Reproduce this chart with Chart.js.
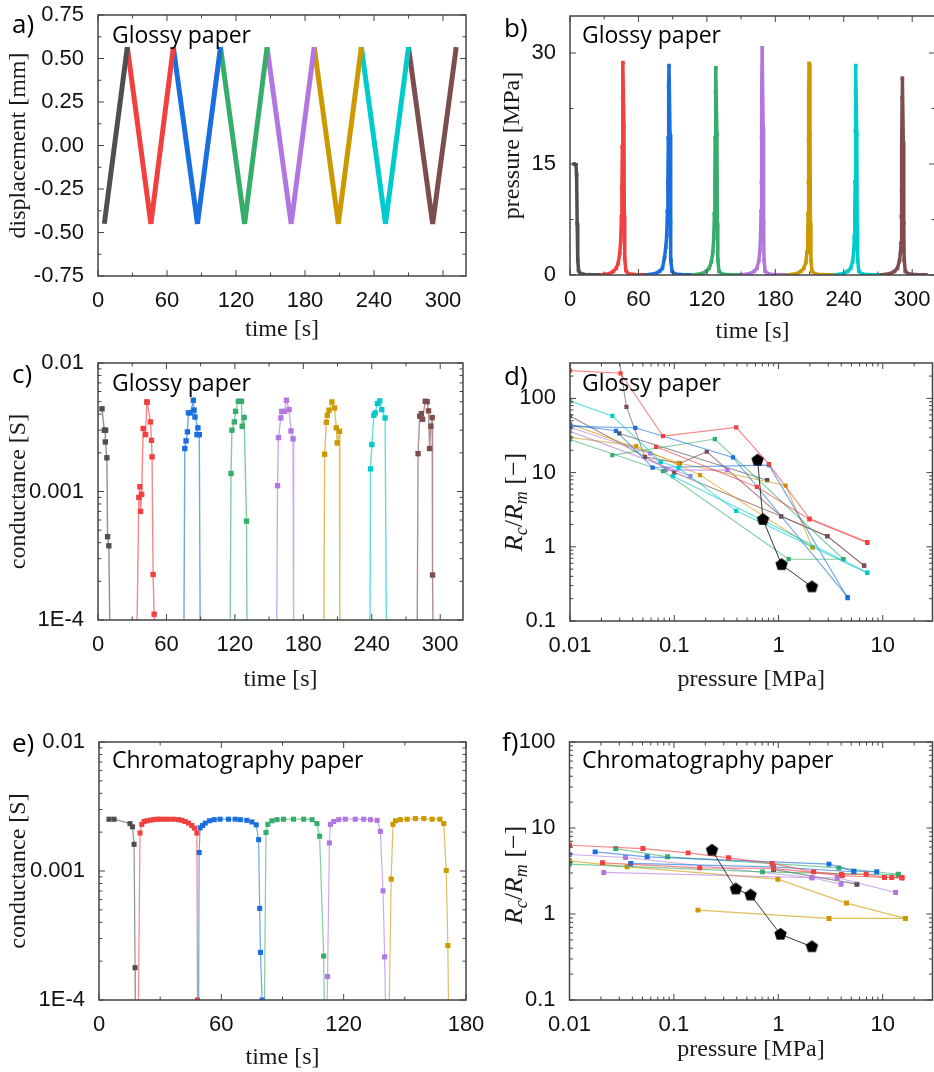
<!DOCTYPE html>
<html>
<head>
<meta charset="utf-8">
<script src="https://cdn.jsdelivr.net/npm/chart.js@4.4.0/dist/chart.umd.min.js"></script>
<style>
  html, body { margin: 0; padding: 0; background: #fff; }
  body { width: 934px; height: 1072px; overflow: hidden; position: relative; }
  canvas { position: absolute; }
</style>
</head>
<body>
<canvas id="pa"></canvas>
<canvas id="pb"></canvas>
<canvas id="pc"></canvas>
<canvas id="pd"></canvas>
<canvas id="pe"></canvas>
<canvas id="pf"></canvas>
<script>
// Origin-style palette
const BLACK = '#4f4f4f', RED = '#F14040', BLUE = '#1A6FDF', GREEN = '#37AD6B',
      PURPLE = '#B177DE', GOLD = '#CC9900', CYAN = '#00CBCC', BROWN = '#7D4E4E';

// ---------- a) displacement [mm] vs time [s]
const dispBlack  = [[5.5, -0.45], [25.5, 0.565]];
const dispRed    = [[25.5, 0.565], [46, -0.45], [65.5, 0.565]];
const dispBlue   = [[65.5, 0.565], [86.5, -0.45], [106.5, 0.565]];
const dispGreen  = [[106.5, 0.565], [127.5, -0.45], [147, 0.565]];
const dispPurple = [[147, 0.565], [168, -0.45], [188, 0.565]];
const dispGold   = [[188, 0.565], [209, -0.45], [229, 0.565]];
const dispCyan   = [[229, 0.565], [250, -0.45], [270, 0.565]];
const dispBrown  = [[270, 0.565], [291, -0.45], [311.5, 0.565]];

// ---------- b) pressure [MPa] vs time [s]
const presBlack  = [[3.6,15.0],[5.2,14.9],[5.8,13.5],[6.3,7],[6.8,2],[7.5,0.6],[9,0.2],[12,0.08],[17,0.04],[24,0.02]];
const presRed    = [[24,0.02],[30,0.06],[35,0.2],[38,0.5],[40.5,0.9],[42.3,1.6],[43.6,2.9],[44.5,4.7],[45.1,7.9],[45.5,11.7],[45.9,17.3],[46.2,24],[46.4,28.7],[47.3,20],[47.6,8],[48,2.2],[49,0.6],[51,0.18],[56,0.06],[64,0.02]];
const presBlue   = [[64,0.02],[70,0.06],[75,0.2],[78.5,0.5],[81,0.9],[82.8,2.3],[84,3.8],[84.8,5.4],[85.4,8.6],[85.8,12.4],[86.2,18.5],[86.5,25.6],[86.8,28.3],[87.7,19],[88.1,7],[88.5,2],[89.5,0.5],[92,0.15],[97,0.05],[105,0.02]];
const presGreen  = [[105,0.02],[111,0.06],[116,0.2],[119.5,0.5],[122,0.9],[124,1.8],[125.2,3.1],[126,5.0],[126.6,8.3],[127,12.8],[127.3,18.5],[127.6,24.8],[127.9,28.0],[128.8,19],[129.2,7],[129.6,2],[130.6,0.5],[133,0.15],[138,0.05],[147,0.02]];
const presPurple = [[147,0.02],[153,0.06],[158,0.2],[161.5,0.5],[163.8,0.9],[165.5,1.9],[166.5,3.3],[167.1,5.4],[167.5,8.6],[167.8,12.5],[168,18.5],[168.3,25],[168.5,30.7],[169.3,20],[169.7,7],[170.1,2],[171.1,0.5],[174,0.14],[180,0.05],[188,0.02]];
const presGold   = [[188,0.02],[194,0.06],[199,0.2],[202.5,0.5],[205,0.9],[206.8,1.7],[207.8,3.1],[208.4,5.2],[208.8,8.3],[209,12.5],[209.2,18.3],[209.4,24.5],[209.6,28.6],[210.4,19],[210.8,7],[211.2,2],[212.2,0.5],[215,0.14],[221,0.05],[229,0.02]];
const presCyan   = [[229,0.02],[235,0.06],[240,0.2],[243.5,0.5],[246,0.9],[247.8,1.8],[248.8,3.4],[249.3,5.2],[249.7,8.5],[250,12.6],[250.2,19.5],[250.4,24.8],[250.6,28.3],[251.4,19],[251.8,7],[252.2,2],[253.2,0.5],[256,0.15],[262,0.05],[270,0.02]];
const presBrown  = [[270,0.02],[276,0.06],[281,0.2],[284.5,0.5],[287,0.9],[288.8,1.9],[289.7,2.9],[290.2,4.3],[290.5,7.9],[290.8,11.4],[291,17.6],[291.2,24],[291.4,26.6],[292.2,18],[292.6,7],[293,2],[294,0.5],[297,0.14],[303,0.05],[312,0.02]];

// ---------- c) conductance [S] vs time [s], glossy paper
const condBlack  = [[3.5,4.4e-3],[5.5,3.0e-3],[6.7,3.0e-3],[6.4,2.43e-3],[7.8,1.83e-3],[8.4,4.45e-4],[9.5,3.78e-4],[10.7,5e-5]];
const condRed    = [[33.8,5e-5],[35.8,9.0e-4],[36.7,1.09e-3],[37.3,7.0e-4],[38.3,9.5e-4],[39.6,3.09e-3],[41.7,2.77e-3],[42.8,4.98e-3],[43.1,4.95e-3],[46,3.48e-3],[46.9,2.5e-3],[47.4,1.86e-3],[48.3,2.26e-4],[49.2,1.11e-4],[49.6,5e-5]];
const condBlue   = [[75.2,5e-5],[76.1,2.16e-3],[77.2,2.48e-3],[78.4,2.91e-3],[79.3,4.09e-3],[81.2,4.1e-3],[83.6,5.13e-3],[84.2,4.3e-3],[85,3.8e-3],[87.6,3.13e-3],[86.8,2.77e-3],[88.8,2.77e-3],[89.7,5e-5]];
const condGreen  = [[115.7,5e-5],[116.6,1.38e-3],[117.4,3.0e-3],[119.5,3.48e-3],[120.6,4.2e-3],[123,5.04e-3],[125.8,5.04e-3],[126.4,3.22e-3],[128.1,3.76e-3],[130.2,5.88e-4],[130.7,5e-5]];
const condPurple = [[156.5,5e-5],[157.4,1.11e-3],[158.2,2.63e-3],[160.3,3.74e-3],[161.1,4.2e-3],[163.5,4.2e-3],[165.2,5.13e-3],[167.5,4.34e-3],[169.2,2.96e-3],[171,2.57e-3],[171.5,5e-5]];
const condGold   = [[197.9,5e-5],[198.7,1.95e-3],[200.2,3.46e-3],[201,3.92e-3],[202.5,4.29e-3],[205.1,4.98e-3],[207.4,4.47e-3],[208.9,3.13e-3],[209.7,2.39e-3],[211.7,2.94e-3],[212,5e-5]];
const condCyan   = [[238.4,5e-5],[238.9,1.5e-3],[240.1,2.32e-3],[241.8,3.92e-3],[243,4.09e-3],[245,4.83e-3],[247,5.07e-3],[248.8,4.34e-3],[251.7,3.74e-3],[253,5e-5]];
const condBrown  = [[279.7,5e-5],[280.6,1.97e-3],[282,3.85e-3],[283.5,4.04e-3],[284.6,3.65e-3],[286.9,5.04e-3],[288.6,5.0e-3],[289.8,4.24e-3],[290.7,2.16e-3],[291.8,3.22e-3],[293,3.76e-3],[293.3,2.24e-4],[293.9,5e-5]];

// ---------- d) Rc/Rm vs pressure, glossy paper
const ratioModel = [[0.63,14.7],[0.71,2.33],[1.07,0.575],[2.09,0.288]];
const gRed1    = [[0.01,237],[0.0305,218],[0.078,31],[0.393,40.6],[0.81,13],[1.98,2.4],[7.1,1.16]];
const gRed2    = [[0.067,22.3],[0.62,6.4],[1.98,2.35],[7.1,1.13]];
const gCyan1   = [[0.01,92],[0.0255,58],[0.0743,14],[0.11,11.6],[0.393,3.05],[7.1,0.445]];
const gCyan2   = [[0.097,8.96],[0.7,2.3],[7.1,0.45]];
const gBlue1   = [[0.01,44],[0.0276,36.6],[0.062,11.7],[0.81,12.6],[4.6,0.204]];
const gBlue2   = [[0.01,42],[0.0423,40.2],[0.366,16],[4.6,0.21]];
const gGreen1  = [[0.0255,17.2],[0.245,28.3],[4.2,0.68]];
const gGreen2  = [[0.01,28],[0.078,10.5],[1.25,0.68],[4.2,0.68]];
const gPurple1 = [[0.01,40.6],[0.0588,18.1],[0.083,10.8],[0.323,10.8]];
const gPurple2 = [[0.01,36],[0.143,8.96]];
const gGold1   = [[0.01,29.8],[0.0432,22.8],[0.177,9.25],[2.12,0.98]];
const gGold2   = [[0.01,45],[0.11,13.5],[1.17,6.7],[2.12,0.98]];
const gBrown1  = [[0.029,400],[0.0348,77],[0.0524,16.3],[0.113,13.3],[0.205,19.1],[1.06,2.58],[2.94,1.39],[6.62,0.558]];
const gBrown2  = [[0.01,57.8],[0.1,10],[1.06,2.58],[2.94,1.39],[6.62,0.558]];
const gGrey    = [[0.0297,33.7],[0.78,7.9]];

// ---------- e) conductance [S] vs time [s], chromatography paper
const chBlack  = [[4.9,2.52e-3],[7.4,2.52e-3],[15.2,2.33e-3],[16.4,2.2e-3],[17.2,1.61e-3],[17.7,1.78e-4],[17.8,5e-5]];
const chRed    = [[19.2,5e-5],[20.1,1.97e-3],[21,2.3e-3],[22.1,2.42e-3],[23.5,2.45e-3],[25.2,2.48e-3],[26.8,2.5e-3],[28.5,2.52e-3],[30.1,2.52e-3],[31.8,2.52e-3],[34,2.52e-3],[36.5,2.52e-3],[39,2.5e-3],[40.6,2.47e-3],[42.2,2.42e-3],[43.9,2.35e-3],[45.5,2.25e-3],[46.8,2.15e-3],[48,1.97e-3],[48.3,1.0e-4],[48.5,5e-5]];
const chBlue   = [[48.8,5e-5],[49.1,1.39e-3],[49.6,2.16e-3],[50.8,2.25e-3],[52.1,2.35e-3],[54.2,2.45e-3],[56.5,2.5e-3],[59.4,2.52e-3],[63.5,2.52e-3],[66.8,2.52e-3],[69.3,2.5e-3],[72.5,2.47e-3],[75,2.4e-3],[77.1,2.28e-3],[78.3,1.75e-3],[78.8,5.13e-4],[79.2,2.34e-4],[80,1.0e-4],[80.1,5e-5]];
const chGreen  = [[81,5e-5],[81.9,1.99e-3],[82.8,2.3e-3],[84.8,2.45e-3],[87.3,2.5e-3],[90.5,2.52e-3],[95.4,2.52e-3],[100.4,2.52e-3],[104.5,2.5e-3],[106.9,2.33e-3],[108.2,1.86e-3],[110.2,2.19e-4],[110.7,5e-5]];
const chPurple = [[111.5,5e-5],[112.1,1.52e-4],[113,1.65e-3],[113.5,2.3e-3],[115.1,2.42e-3],[117.6,2.5e-3],[120.8,2.52e-3],[125.7,2.52e-3],[129.8,2.52e-3],[133.1,2.5e-3],[136.4,2.47e-3],[138,2.03e-3],[139.3,7.02e-4],[140.1,2.16e-4],[140.8,5e-5]];
const chGold   = [[142.1,5e-5],[143.3,8.65e-4],[144.2,2.3e-3],[145.4,2.45e-3],[147.8,2.5e-3],[151.1,2.52e-3],[155.2,2.55e-3],[159.3,2.55e-3],[163.4,2.52e-3],[167.2,2.52e-3],[169.1,2.33e-3],[170.3,1.01e-3],[171.1,2.64e-4],[171.6,5e-5]];

// ---------- f) Rc/Rm vs pressure, chromatography paper
const chModel  = [[0.232,5.52],[0.392,1.95],[0.543,1.66],[1.05,0.58],[2.1,0.416]];
const cRed1    = [[0.01,6.3],[0.0505,5.77],[0.137,5.14],[0.334,4.5],[0.871,3.87],[2.18,3.09],[4.03,2.9],[6.95,2.9],[10.4,2.66],[12.2,2.66],[15.3,2.66]];
const cRed2    = [[0.0207,3.94],[0.177,3.44],[0.9,3.4],[4.1,2.8],[15.3,2.62]];
const cBlue1   = [[0.0176,5.28],[0.0555,4.62],[3.06,3.8],[5.28,3.15],[8.77,3.1]];
const cBlue2   = [[0.0386,3.87],[0.898,3.54],[5.3,3.1]];
const cGreen1  = [[0.0277,5.77],[0.087,4.62],[3.8,3.44],[14.1,2.9]];
const cGreen2  = [[0.01,3.8],[0.706,3.09],[14.1,2.85]];
const cPurple1 = [[0.01,4.92],[0.0344,4.54],[2.1,2.64],[3.67,2.64],[13.3,1.78]];
const cPurple2 = [[0.0213,3.04],[2.1,2.64],[4.0,2.22]];
const cGold1   = [[0.01,4.15],[0.0356,3.54],[0.99,2.54],[4.5,1.34],[16.5,0.888]];
const cGold2   = [[0.17,1.11],[3.06,0.888],[16.5,0.888]];
const cGrey    = [[0.9,3.3],[5.67,2.22]];

// ---------- ticks and tick labels
const timeTicks  = [0, 30, 60, 90, 120, 150, 180, 210, 240, 270, 300];
const timeLabels = ['0', '', '60', '', '120', '', '180', '', '240', '', '300'];
const shortTimeTicks  = [0, 30, 60, 90, 120, 150, 180];
const shortTimeLabels = ['0', '', '60', '', '120', '', '180'];
const dispTicks  = [-0.75, -0.625, -0.5, -0.375, -0.25, -0.125, 0, 0.125, 0.25, 0.375, 0.5, 0.625, 0.75];
const dispLabels = ['-0.75', '', '-0.50', '', '-0.25', '', '0.00', '', '0.25', '', '0.50', '', '0.75'];
const presTicks  = [0, 7.5, 15, 22.5, 30];
const presLabels = ['0', '', '15', '', '30'];
const condTicks  = [1e-4, 2e-4, 3e-4, 4e-4, 5e-4, 6e-4, 7e-4, 8e-4, 9e-4,
                    1e-3, 2e-3, 3e-3, 4e-3, 5e-3, 6e-3, 7e-3, 8e-3, 9e-3, 1e-2];
const condLabels = ['1E-4', '', '', '', '', '', '', '', '',
                    '0.001', '', '', '', '', '', '', '', '', '0.01'];
const mpaTicks  = [0.01, 0.02, 0.03, 0.04, 0.05, 0.06, 0.07, 0.08, 0.09,
                   0.1, 0.2, 0.3, 0.4, 0.5, 0.6, 0.7, 0.8, 0.9,
                   1, 2, 3, 4, 5, 6, 7, 8, 9, 10, 20];
const mpaLabels = ['0.01', '', '', '', '', '', '', '', '',
                   '0.1', '', '', '', '', '', '', '', '',
                   '1', '', '', '', '', '', '', '', '', '10', ''];
const ratioTicks  = [0.1, 0.2, 0.3, 0.4, 0.5, 0.6, 0.7, 0.8, 0.9,
                     1, 2, 3, 4, 5, 6, 7, 8, 9,
                     10, 20, 30, 40, 50, 60, 70, 80, 90, 100, 200];
const ratioLabels = ['0.1', '', '', '', '', '', '', '', '',
                     '1', '', '', '', '', '', '', '', '',
                     '10', '', '', '', '', '', '', '', '', '100', ''];

// panel boxes (page px): canvas box + plot area + title centres
const BOX = {
  pa: {x: 0,   y: 0,   w: 467, h: 350, L: 98,    T: 15,  R: 466, B: 276,  xt: 330,  yt: 19},
  pb: {x: 467, y: 0,   w: 472, h: 350, L: 570,   T: 16,  R: 938, B: 275,  xt: 332,  yt: 513},
  pc: {x: 0,   y: 345, w: 467, h: 352, L: 98,    T: 363, R: 466, B: 620,  xt: 680,  yt: 18.5},
  pd: {x: 467, y: 345, w: 472, h: 352, L: 570,   T: 363, R: 938, B: 621,  xt: 680,  yt: 514},
  pe: {x: 0,   y: 725, w: 500, h: 347, L: 99,    T: 742, R: 466, B: 1000, xt: 1058, yt: 18.5},
  pf: {x: 467, y: 725, w: 472, h: 347, L: 569.5, T: 742, R: 938, B: 1000, xt: 1050, yt: 514}
};

// in-canvas texts: panel letter + sample annotation (page coordinates)
const TEXTS = {
  pa: [['a)', 12, 33, 26], ['Glossy paper', 112, 43, 23]],
  pb: [['b)', 504, 37, 26], ['Glossy paper', 582, 43, 23]],
  pc: [['c)', 12, 383, 26], ['Glossy paper', 112, 391, 23]],
  pd: [['d)', 504, 385, 26], ['Glossy paper', 582, 391, 23]],
  pe: [['e)', 12, 752, 26], ['Chromatography paper', 112, 768, 23]],
  pf: [['f)', 502, 751, 26], ['Chromatography paper', 582, 768, 23]]
};
const RC_TITLE = {pd: [514, 502], pf: [514, 875]};

const TICK_FONT = {family: 'Liberation Sans', size: 22};
const TITLE_FONT = {family: 'Liberation Serif', size: 24};

function drawRcRm(ctx, cx, cy) {
  const big = 'italic 26px "Liberation Serif"', sub = 'italic 18px "Liberation Serif"', up = '26px "Liberation Serif"';
  const parts = [['R', big, 0], ['c', sub, 5], ['/', up, 0], ['R', big, 0], ['m', sub, 5], [' [\u2212]', up, 0]];
  ctx.save();
  ctx.translate(cx, cy);
  ctx.rotate(-Math.PI / 2);
  let total = 0;
  parts.forEach(p => { ctx.font = p[1]; total += ctx.measureText(p[0]).width; });
  let x = -total / 2;
  ctx.fillStyle = '#1a1a1a';
  ctx.textBaseline = 'alphabetic';
  parts.forEach(p => {
    ctx.font = p[1];
    ctx.fillText(p[0], x, 8 + p[2]);
    x += ctx.measureText(p[0]).width;
  });
  ctx.restore();
}

// frame with inward ticks on all four sides, plus the panel texts
const framePlugin = {
  id: 'frame',
  afterDraw(chart) {
    const {ctx, chartArea: a} = chart;
    const xs = chart.scales.x, ys = chart.scales.y;
    const id = chart.canvas.id, box = BOX[id];
    ctx.save();
    ctx.strokeStyle = '#444';
    ctx.lineWidth = 1;
    ctx.beginPath();
    xs.ticks.forEach(t => {
      const px = xs.getPixelForValue(t.value);
      const len = t.major ? 6 : 3.5;
      ctx.moveTo(px, a.bottom); ctx.lineTo(px, a.bottom - len);
      ctx.moveTo(px, a.top); ctx.lineTo(px, a.top + len);
    });
    ys.ticks.forEach(t => {
      const py = ys.getPixelForValue(t.value);
      const len = t.major ? 6 : 3.5;
      ctx.moveTo(a.left, py); ctx.lineTo(a.left + len, py);
      ctx.moveTo(a.right, py); ctx.lineTo(a.right - len, py);
    });
    ctx.stroke();
    ctx.lineWidth = 1.5;
    ctx.strokeRect(a.left, a.top, a.right - a.left, a.bottom - a.top);
    ctx.fillStyle = '#000';
    ctx.textAlign = 'left';
    ctx.textBaseline = 'alphabetic';
    TEXTS[id].forEach(([text, x, y, size]) => {
      ctx.font = size + 'px "Open Sans"';
      ctx.fillText(text, x - box.x, y - box.y);
    });
    if (RC_TITLE[id]) drawRcRm(ctx, RC_TITLE[id][0] - box.x, RC_TITLE[id][1] - box.y);
    ctx.restore();
  }
};

function axis(isX, box, type, min, max, ticks, labels, title) {
  const size = isX ? box.y + box.h - box.B : box.L - box.x;
  const lh = TITLE_FONT.size * 1.2 / 2;
  const pad = isX ? box.y + box.h - lh - box.xt : box.yt - box.x - lh;
  return {
    type, min, max,
    grid: {display: false},
    border: {display: false},
    ticks: {
      autoSkip: false, maxRotation: 0, minRotation: 0,
      padding: isX ? 4 : 6,
      font: TICK_FONT, color: '#111',
      callback: (v, i) => labels[i]
    },
    afterBuildTicks: s => { s.ticks = ticks.map((v, i) => ({value: v, major: labels[i] !== ''})); },
    afterFit: s => {
      if (isX) s.height = size; else s.width = size;
      s.paddingLeft = s.paddingRight = s.paddingTop = s.paddingBottom = 0;
    },
    title: title ? {display: true, text: title, font: TITLE_FONT, color: '#1a1a1a',
                    padding: {top: Math.max(pad, 0), bottom: Math.max(pad, 0)}} : {display: false}
  };
}

const xy = arr => arr.map(p => ({x: p[0], y: p[1]}));

function series(arr, color, o) {
  return {
    data: xy(arr), showLine: true, clip: 0,
    borderColor: o.lineColor || color, borderWidth: o.lw,
    borderJoinStyle: o.join || 'miter',
    pointStyle: o.style || 'rect', pointRadius: o.r,
    pointBackgroundColor: color, pointBorderWidth: 0
  };
}

function pentagon(r, color) {
  const c = document.createElement('canvas');
  const s = Math.ceil(2 * r + 2);
  c.width = c.height = s;
  const g = c.getContext('2d');
  g.fillStyle = color;
  g.beginPath();
  for (let i = 0; i < 5; i++) {
    const ang = -Math.PI / 2 + i * 2 * Math.PI / 5;
    g.lineTo(s / 2 + r * Math.cos(ang), s / 2 + r * Math.sin(ang));
  }
  g.closePath();
  g.fill();
  return c;
}

function panel(id, datasets, xAxis, yAxis) {
  const box = BOX[id];
  const cv = document.getElementById(id);
  cv.width = box.w; cv.height = box.h;
  cv.style.left = box.x + 'px'; cv.style.top = box.y + 'px';
  new Chart(cv, {
    type: 'scatter',
    data: {datasets},
    options: {
      responsive: false, animation: false, events: [],
      layout: {padding: {left: 0, top: box.T - box.y, right: box.x + box.w - box.R, bottom: 0}},
      plugins: {legend: {display: false}, tooltip: {enabled: false}},
      scales: {x: xAxis, y: yAxis}
    },
    plugins: [framePlugin]
  });
}

const pent = pentagon(6.5, '#000');
const alpha = c => c + 'A0';

// a)
panel('pa',
  [[dispBlack, BLACK], [dispRed, RED], [dispBlue, BLUE], [dispGreen, GREEN],
   [dispPurple, PURPLE], [dispGold, GOLD], [dispCyan, CYAN], [dispBrown, BROWN]]
    .map(([d, c]) => series(d, c, {lw: 5, r: 0, join: 'bevel'})),
  axis(true, BOX.pa, 'linear', 0, 320, timeTicks, timeLabels, 'time [s]'),
  axis(false, BOX.pa, 'linear', -0.75, 0.75, dispTicks, dispLabels, 'displacement [mm]'));

// b)
panel('pb',
  [[presBlack, BLACK], [presRed, RED], [presBlue, BLUE], [presGreen, GREEN],
   [presPurple, PURPLE], [presGold, GOLD], [presCyan, CYAN], [presBrown, BROWN]]
    .map(([d, c]) => series(d, c, {lw: 3.5, r: 2.6})),
  axis(true, BOX.pb, 'linear', 0, 320, timeTicks, timeLabels, 'time [s]'),
  axis(false, BOX.pb, 'linear', 0, 35, presTicks, presLabels, 'pressure [MPa]'));

// c)
panel('pc',
  [[condBlack, BLACK], [condRed, RED], [condBlue, BLUE], [condGreen, GREEN],
   [condPurple, PURPLE], [condGold, GOLD], [condCyan, CYAN], [condBrown, BROWN]]
    .map(([d, c]) => series(d, c, {lw: 1.4, r: 3.8, lineColor: alpha(c)})),
  axis(true, BOX.pc, 'linear', 0, 320, timeTicks, timeLabels, 'time [s]'),
  axis(false, BOX.pc, 'logarithmic', 1e-4, 1e-2, condTicks, condLabels, 'conductance [S]'));

// d)  (first dataset is drawn on top)
panel('pd',
  [series(ratioModel, '#000', {lw: 1, r: 6.5, style: pent, lineColor: '#333'})].concat(
  [[gRed1, RED], [gRed2, RED], [gCyan1, CYAN], [gCyan2, CYAN], [gBlue1, BLUE], [gBlue2, BLUE],
   [gGreen1, GREEN], [gGreen2, GREEN], [gPurple1, PURPLE], [gPurple2, PURPLE],
   [gGold1, GOLD], [gGold2, GOLD], [gBrown1, BROWN], [gBrown2, BROWN], [gGrey, BLACK]]
    .map(([d, c]) => series(d, c, {lw: 1.1, r: 3, lineColor: alpha(c)}))),
  axis(true, BOX.pd, 'logarithmic', 0.01, 30, mpaTicks, mpaLabels, 'pressure [MPa]'),
  axis(false, BOX.pd, 'logarithmic', 0.1, 300, ratioTicks, ratioLabels, null));

// e)
panel('pe',
  [[chBlack, BLACK], [chRed, RED], [chBlue, BLUE], [chGreen, GREEN], [chPurple, PURPLE], [chGold, GOLD]]
    .map(([d, c]) => series(d, c, {lw: 1.2, r: 3.6, lineColor: alpha(c)})),
  axis(true, BOX.pe, 'linear', 0, 180, shortTimeTicks, shortTimeLabels, 'time [s]'),
  axis(false, BOX.pe, 'logarithmic', 1e-4, 1e-2, condTicks, condLabels, 'conductance [S]'));

// f)
panel('pf',
  [series(chModel, '#000', {lw: 1, r: 6.5, style: pent, lineColor: '#333'})].concat(
  [[cRed1, RED], [cRed2, RED], [cBlue1, BLUE], [cBlue2, BLUE], [cGreen1, GREEN], [cGreen2, GREEN],
   [cPurple1, PURPLE], [cPurple2, PURPLE], [cGold1, GOLD], [cGold2, GOLD], [cGrey, BLACK]]
    .map(([d, c]) => series(d, c, {lw: 1.2, r: 3.5, lineColor: alpha(c)}))),
  axis(true, BOX.pf, 'logarithmic', 0.01, 30, mpaTicks, mpaLabels, 'pressure [MPa]'),
  axis(false, BOX.pf, 'logarithmic', 0.1, 100, ratioTicks.slice(0, 28), ratioLabels.slice(0, 28), null));
</script>
</body>
</html>
